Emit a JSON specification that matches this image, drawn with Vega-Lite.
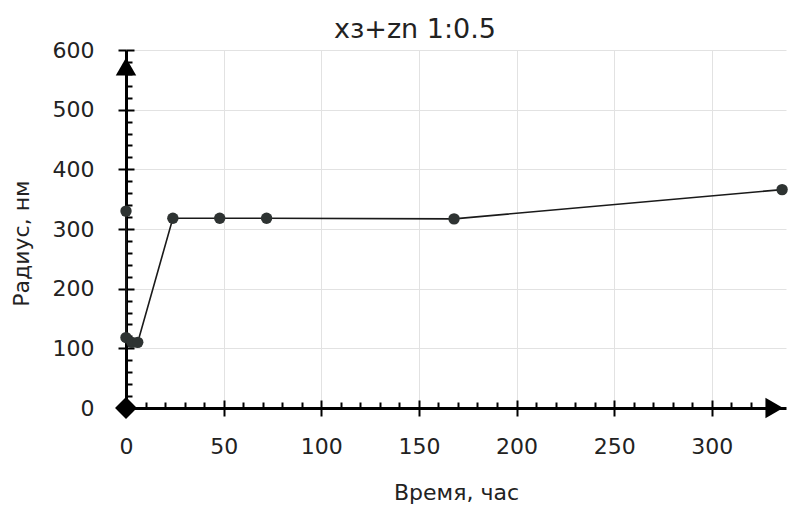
{
  "$schema": "https://vega.github.io/schema/vega-lite/v6.json",
  "width": 660,
  "height": 358,
  "autosize": "none",
  "padding": {"left": 126, "top": 50, "right": 4, "bottom": 102},
  "background": "white",
  "title": {"text": "xз+zn 1:0.5", "font": "DejaVu Sans", "fontSize": 27, "fontWeight": "normal", "color": "#222", "anchor": "middle", "dx": -41, "offset": -5},
  "config": {
    "view": {"stroke": null},
    "axis": {"labelFont": "DejaVu Sans", "labelFontSize": 22, "labelColor": "#222", "titleFont": "DejaVu Sans", "titleFontSize": 22, "titleFontWeight": "normal", "titleColor": "#222", "domainColor": "black", "domainWidth": 3, "tickColor": "black", "tickWidth": 2, "gridColor": "#e2e2e2", "gridWidth": 1, "labelOverlap": false, "labelFlush": false}
  },
  "resolve": {"axis": {"x": "independent", "y": "independent"}},
  "layer": [
    {
      "data": {"values": [
        {"i": 1, "t": 0, "r": 330},
        {"i": 2, "t": 0, "r": 118},
        {"i": 3, "t": 3, "r": 110},
        {"i": 4, "t": 6, "r": 110},
        {"i": 5, "t": 24, "r": 318},
        {"i": 6, "t": 48, "r": 318},
        {"i": 7, "t": 72, "r": 318},
        {"i": 8, "t": 168, "r": 317},
        {"i": 9, "t": 336, "r": 366}
      ]},
      "mark": {"type": "line", "color": "#1a1a1a", "strokeWidth": 1.6},
      "encoding": {
        "x": {"field": "t", "type": "quantitative", "scale": {"domain": [0, 338], "nice": false},
          "axis": {"orient": "bottom", "title": "Время, час", "titlePadding": 25,
            "values": [0, 50, 100, 150, 200, 250, 300],
            "tickSize": 8, "labelPadding": 20, "domain": true, "grid": true,
            "gridOpacity": {"condition": {"test": "datum.value > 0", "value": 1}, "value": 0}}},
        "y": {"field": "r", "type": "quantitative", "scale": {"domain": [0, 600], "nice": false},
          "axis": {"orient": "left", "title": "Радиус, нм", "titlePadding": 19, "titleY": 193,
            "values": [0, 100, 200, 300, 400, 500, 600],
            "tickSize": 8, "labelPadding": 24, "domain": true, "grid": true,
            "gridOpacity": {"condition": {"test": "datum.value > 0", "value": 1}, "value": 0}}},
        "order": {"field": "i"}
      }
    },
    {
      "data": {"values": [
        {"t": 0, "r": 330},
        {"t": 0, "r": 118},
        {"t": 3, "r": 110},
        {"t": 6, "r": 110},
        {"t": 24, "r": 318},
        {"t": 48, "r": 318},
        {"t": 72, "r": 318},
        {"t": 168, "r": 317},
        {"t": 336, "r": 366}
      ]},
      "mark": {"type": "point", "filled": true, "color": "#2e3332", "size": 130, "opacity": 1},
      "encoding": {
        "x": {"field": "t", "type": "quantitative",
          "axis": {"orient": "bottom", "title": null, "labels": false, "domain": false, "grid": false,
            "values": [0,10,20,30,40,50,60,70,80,90,100,110,120,130,140,150,160,170,180,190,200,210,220,230,240,250,260,270,280,290,300,310,320,330],
            "tickSize": {"condition": {"test": "datum.value % 50 === 0", "value": -8}, "value": -6}}},
        "y": {"field": "r", "type": "quantitative",
          "axis": {"orient": "left", "title": null, "labels": false, "domain": false, "grid": false,
            "values": [0,20,40,60,80,100,120,140,160,180,200,220,240,260,280,300,320,340,360,380,400,420,440,460,480,500,520,540,560,580,600],
            "tickSize": {"condition": {"test": "datum.value % 100 === 0", "value": -8}, "value": -6}}}
      }
    },
    {
      "data": {"values": [{"t": 0, "r": 0}]},
      "mark": {"type": "point", "shape": "diamond", "filled": true, "color": "black", "size": 480, "opacity": 1, "clip": false},
      "encoding": {"x": {"field": "t", "type": "quantitative", "axis": null}, "y": {"field": "r", "type": "quantitative", "axis": null}}
    },
    {
      "data": {"values": [{"t": 0, "r": 572}]},
      "mark": {"type": "point", "shape": "triangle-up", "filled": true, "color": "black", "size": 420, "opacity": 1, "clip": false},
      "encoding": {"x": {"field": "t", "type": "quantitative", "axis": null}, "y": {"field": "r", "type": "quantitative", "axis": null}}
    },
    {
      "data": {"values": [{"t": 332, "r": 0}]},
      "mark": {"type": "point", "shape": "triangle-right", "filled": true, "color": "black", "size": 420, "opacity": 1, "clip": false},
      "encoding": {"x": {"field": "t", "type": "quantitative", "axis": null}, "y": {"field": "r", "type": "quantitative", "axis": null}}
    }
  ]
}
